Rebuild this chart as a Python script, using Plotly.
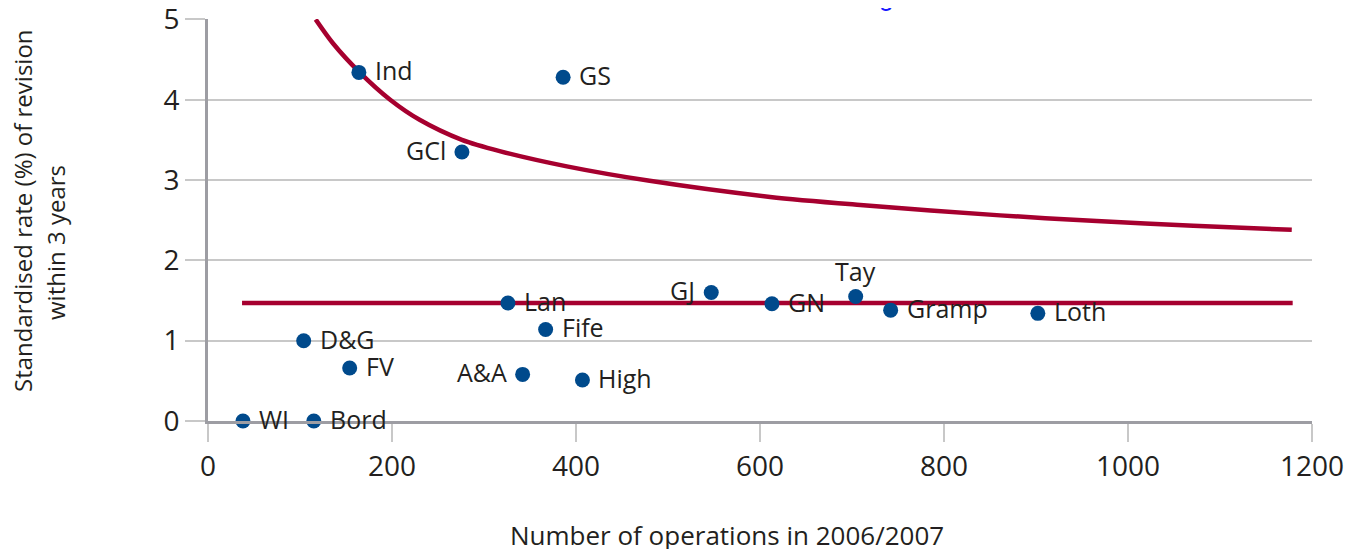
import plotly.graph_objects as go

# health boards: operations 2006/2007 vs standardised revision rate (%)
boards = ["WI", "Bord", "D&G", "FV", "Ind", "GCl", "GS", "Lan", "Fife",
          "A&A", "High", "GJ", "GN", "Tay", "Gramp", "Loth"]
operations = [38, 115, 104, 154, 164, 276, 386, 326, 367,
              342, 407, 547, 613, 704, 742, 902]
revision_rate = [0.0, 0.0, 1.0, 0.66, 4.34, 3.35, 4.28, 1.47, 1.14,
                 0.58, 0.51, 1.60, 1.46, 1.55, 1.38, 1.34]
label_side = ["right", "right", "right", "right", "right", "left", "right", "right", "right",
              "left", "right", "left", "right", "top", "right", "right"]

# average rate
mean_x = [37, 1179]
mean_y = [1.47, 1.47]

# upper control limit
upper_x = [117, 136, 164, 198, 230, 276, 317, 390, 480, 611, 709, 861, 966, 1071, 1178]
upper_y = [5.0, 4.70, 4.35, 4.0, 3.75, 3.50, 3.36, 3.17, 2.99, 2.79, 2.69, 2.56, 2.49, 2.43, 2.38]

x_ticks = [0, 200, 400, 600, 800, 1000, 1200]
y_ticks = [0, 1, 2, 3, 4, 5]

FONT = "Open Sans"
TEXT = "#231f20"
RED = "#a6002f"
BLUE = "#004a8c"

fig = go.Figure()
fig.add_trace(go.Scatter(x=mean_x, y=mean_y, mode="lines",
                         line=dict(color=RED, width=4.5), hoverinfo="skip"))
fig.add_trace(go.Scatter(x=upper_x, y=upper_y, mode="lines",
                         line=dict(color=RED, width=4.5, shape="spline", smoothing=0.8),
                         hoverinfo="skip", cliponaxis=False))
fig.add_trace(go.Scatter(x=operations, y=revision_rate, mode="markers", text=boards,
                         marker=dict(color=BLUE, size=15), cliponaxis=False))

for name, ox, oy, side in zip(boards, operations, revision_rate, label_side):
    if side == "right":
        opts = dict(xanchor="left", xshift=14, yshift=2)
    elif side == "left":
        opts = dict(xanchor="right", xshift=-14, yshift=2)
    else:
        opts = dict(xanchor="center", yanchor="bottom", yshift=7)
    fig.add_annotation(x=ox, y=oy, text=name, showarrow=False,
                       font=dict(family=FONT, size=25, color=TEXT), **opts)

# axis titles
fig.add_annotation(xref="paper", yref="paper", x=0.47, y=-0.29, yanchor="middle",
                   yshift=3, text="Number of operations in 2006/2007",
                   showarrow=False, font=dict(family=FONT, size=26, color=TEXT))
fig.add_annotation(xref="paper", yref="paper", x=0, y=0.5, xanchor="center",
                   xshift=-186, yshift=9, text="Standardised rate (%) of revision",
                   textangle=-90, showarrow=False,
                   font=dict(family=FONT, size=24, color=TEXT))
fig.add_annotation(xref="paper", yref="paper", x=0, y=0.5, xanchor="center",
                   xshift=-153, yshift=-23, text="within 3 years",
                   textangle=-90, showarrow=False,
                   font=dict(family=FONT, size=24, color=TEXT))
# title text cut off at top of the page
fig.add_annotation(xref="x", yref="paper", x=737, y=1, yanchor="bottom", yshift=5,
                   text="g", showarrow=False,
                   font=dict(family="Roboto", size=26, color="#1a1aff"))

fig.update_xaxes(range=[0, 1200], tickvals=x_ticks, showgrid=False, zeroline=False,
                 showline=True, linecolor="#9d9da3", linewidth=3,
                 ticks="outside", ticklen=18, tickcolor="#c8c8c8", tickwidth=1.5,
                 ticklabeloverflow="allow",
                 tickfont=dict(family=FONT, size=28, color=TEXT))
fig.update_yaxes(range=[0, 5.005], tickvals=y_ticks, showgrid=True, gridcolor="#c8c8c8",
                 gridwidth=1.5, zeroline=False,
                 showline=True, linecolor="#9d9da3", linewidth=3,
                 ticks="outside", ticklen=20, tickcolor="#c8c8c8", tickwidth=1.5,
                 ticklabeloverflow="allow",
                 tickfont=dict(family=FONT, size=28, color=TEXT))

# page body adds an 8px offset, so margins are shifted to match
fig.update_layout(width=1352, height=549, showlegend=False,
                  plot_bgcolor="white", paper_bgcolor="white",
                  margin=dict(l=200, r=48, t=11, b=136, autoexpand=False))

fig.write_html("out.html")
